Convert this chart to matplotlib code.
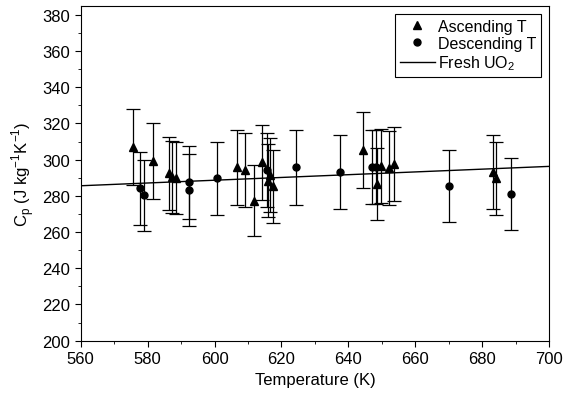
import matplotlib
matplotlib.use("Agg")
import matplotlib.pyplot as plt
from matplotlib.lines import Line2D
from matplotlib.ticker import MultipleLocator

plt.rcParams['font.family'] = ['Liberation Sans', 'DejaVu Sans']
plt.rcParams['font.size'] = 12
plt.rcParams['mathtext.fontset'] = 'custom'
plt.rcParams['mathtext.rm'] = 'Liberation Sans'

# ascending temperature runs
asc_T = [575.7, 581.7, 586.4, 587.4, 588.4, 606.6, 609.1, 611.8, 614.3,
         616.1, 616.6, 617.5, 644.5, 648.5, 649.9, 652.2, 653.5, 683.1, 684.1]
asc_cp = [306.8, 299.4, 292.4, 290.5, 289.8, 295.7, 294.3, 277.3, 298.5,
          288.4, 291.5, 285.3, 305.3, 286.5, 296.6, 295.2, 297.6, 293.0, 289.7]
asc_err = [21.0, 21.0, 20.0, 20.0, 20.0, 20.5, 20.5, 19.5, 20.5,
           20.0, 20.5, 20.0, 21.0, 20.0, 20.5, 20.5, 20.5, 20.5, 20.0]

# descending temperature runs
desc_T = [577.7, 578.9, 592.4, 592.4, 600.6, 615.8, 624.4, 637.5, 647.0, 648.2, 670.1, 688.6]
desc_cp = [284.1, 280.3, 287.5, 283.2, 289.8, 294.4, 295.7, 293.3, 296.1, 296.0, 285.6, 281.0]
desc_err = [20.0, 19.6, 20.0, 20.0, 20.2, 20.5, 20.6, 20.5, 20.5, 20.5, 20.0, 19.8]

# fresh UO2 reference line
fresh_T = [560, 700]
fresh_cp = [285.6, 296.3]

fig = plt.figure(figsize=(5.81, 4.02), dpi=100)
ax = fig.add_axes([0.139, 0.150, 0.806, 0.833])

ax.errorbar(asc_T, asc_cp, yerr=asc_err, fmt='^', color='black', ms=6,
            ecolor='black', elinewidth=0.9, capsize=5, capthick=0.9)
ax.errorbar(desc_T, desc_cp, yerr=desc_err, fmt='o', color='black', ms=5,
            ecolor='black', elinewidth=0.9, capsize=5, capthick=0.9)
ax.plot(fresh_T, fresh_cp, color='black', lw=1.0)

ax.set_xlim(560, 700)
ax.set_ylim(200, 385)
ax.xaxis.set_major_locator(MultipleLocator(20))
ax.xaxis.set_minor_locator(MultipleLocator(10))
ax.yaxis.set_major_locator(MultipleLocator(20))
ax.yaxis.set_minor_locator(MultipleLocator(10))
ax.tick_params(which='both', direction='out', top=False, right=False)
ax.tick_params(which='major', length=4)
ax.tick_params(which='minor', length=2.5)

ax.set_xlabel('Temperature (K)')
ax.set_ylabel('C$_\\mathrm{p}$ (J kg$^\\mathrm{-1}$K$^\\mathrm{-1}$)')

handles = [Line2D([], [], ls='none', marker='^', color='black', ms=6),
           Line2D([], [], ls='none', marker='o', color='black', ms=5),
           Line2D([], [], color='black', lw=1.0)]
labels = ['Ascending T', 'Descending T', 'Fresh UO$_\\mathrm{2}$']
leg = ax.legend(handles, labels, loc='upper right', fancybox=False,
                edgecolor='black', framealpha=1, handlelength=2.2,
                borderpad=0.3, labelspacing=0.15, handletextpad=0.2,
                fontsize=11.5)
leg.get_frame().set_linewidth(0.8)

fig.savefig('out.png', dpi=100)
